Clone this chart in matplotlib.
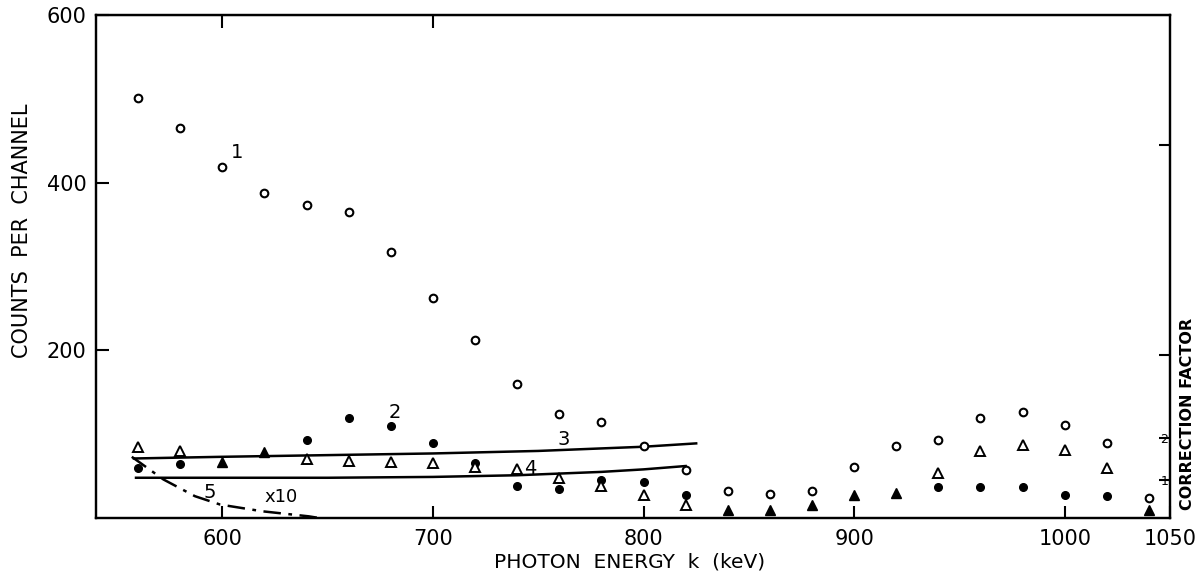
import numpy as np
import matplotlib
matplotlib.use("Agg")
import matplotlib.pyplot as plt

# photon energy grid (keV)
energy = [560, 580, 600, 620, 640, 660, 680, 700, 720, 740, 760, 780, 800,
          820, 840, 860, 880, 900, 920, 940, 960, 980, 1000, 1020, 1040]

# curve 1: open circles
open_circ = [501, 465, 419, 388, 373, 365, 317, 262, 212, 160, 124, 114, 86,
             57, 32, 29, 32, 61, 86, 93, 119, 127, 111, 89, 24]
# curve 2: filled circles
fill_circ = [60, 64, 67, 79, 93, 119, 110, 90, 66, 38, 35, 45, 43,
             27, 10, 10, 15, 27, 30, 37, 37, 37, 27, 26, 10]
# triangles
tri = [85, 80, 67, 79, 70, 68, 67, 66, 61, 59, 48, 38, 28,
       15, 10, 10, 15, 27, 30, 54, 80, 87, 81, 60, 10]

# smooth curves 3 and 4 (solid) and 5 (dash-dot, x10)
c3_x = [558, 600, 650, 700, 750, 800, 825]
c3_y = [71, 73, 75, 77, 80, 85, 89]
c4_x = [559, 650, 700, 740, 780, 800, 820]
c4_y = [48, 48, 49, 51, 55, 58, 62]
c5_x = [557, 572, 587, 599, 619, 641, 646]
c5_y = [73, 46, 26, 16, 8, 2, 0]

xticks = [600, 700, 800, 900, 1000, 1050]
yticks = [200, 400, 600]
cf_ticks = [1, 2, 4, 9]
cf_labels = ["1", "2", "", ""]

fig = plt.figure(figsize=(12.01, 5.73), dpi=100)
ax = fig.add_axes([96 / 1201, 1 - 518 / 573, (1170 - 96) / 1201, (518 - 15) / 573])

ax.plot(c3_x, c3_y, color="k", lw=1.8)
ax.plot(c4_x, c4_y, color="k", lw=1.8)
ax.plot(c5_x, c5_y, color="k", lw=1.8, linestyle=(0, (7, 3, 1.5, 3)))

tri_a = np.array(tri)
fc_a = np.array(fill_circ)
same = np.abs(tri_a - fc_a) < 3
e = np.array(energy)

ax.plot(energy, open_circ, "o", ms=5.5, mfc="white", mec="k", mew=1.5, ls="none")
ax.plot(e[~same], fc_a[~same], "o", ms=5.5, mfc="k", mec="k", ls="none")
ax.plot(e[~same], tri_a[~same], "^", ms=6.5, mfc="white", mec="k", mew=1.4, ls="none")
ax.plot(e[same], tri_a[same], "^", ms=7.5, mfc="k", mec="k", ls="none")

ax.set_xlim(540, 1050)
ax.set_ylim(0, 600)
ax.set_xticks(xticks)
ax.set_yticks(yticks)
ax.tick_params(direction="in", length=9, width=1.5, labelsize=15, pad=7)
ax.tick_params(axis="x", pad=8)
for s in ax.spines.values():
    s.set_linewidth(1.6)

# top ticks at 600 and 700 only
sec = ax.secondary_xaxis("top")
sec.set_xticks([600, 700])
sec.tick_params(direction="in", length=9, width=1.5, labeltop=False)

ax2 = ax.twinx()
ax2.set_ylim(0.1, 12.1)
ax2.set_yticks(cf_ticks)
ax2.set_yticklabels(cf_labels)
ax2.tick_params(direction="in", length=8, width=1.5, labelsize=9, pad=-7)
for s in ax2.spines.values():
    s.set_linewidth(1.6)

# curve labels
ax.text(607, 436, "1", fontsize=14, ha="center", va="center")
ax.text(682, 126, "2", fontsize=14, ha="center", va="center")
ax.text(762, 94, "3", fontsize=14, ha="center", va="center")
ax.text(746, 59, "4", fontsize=14, ha="center", va="center")
ax.text(594, 30, "5", fontsize=14, ha="center", va="center")
ax.text(628, 25, "x10", fontsize=13, ha="center", va="center")

fig.text(630 / 1201, 1 - 562 / 573, "PHOTON  ENERGY  k  (keV)", fontsize=14.5,
         ha="center", va="center")
fig.text(22 / 1201, 1 - 231 / 573, "COUNTS  PER  CHANNEL", fontsize=15,
         rotation=90, ha="center", va="center")
fig.text(1187 / 1201, 1 - 414 / 573, "CORRECTION FACTOR", fontsize=11.5,
         fontweight="bold", rotation=90, ha="center", va="center")

fig.savefig("out.png", dpi=100)
